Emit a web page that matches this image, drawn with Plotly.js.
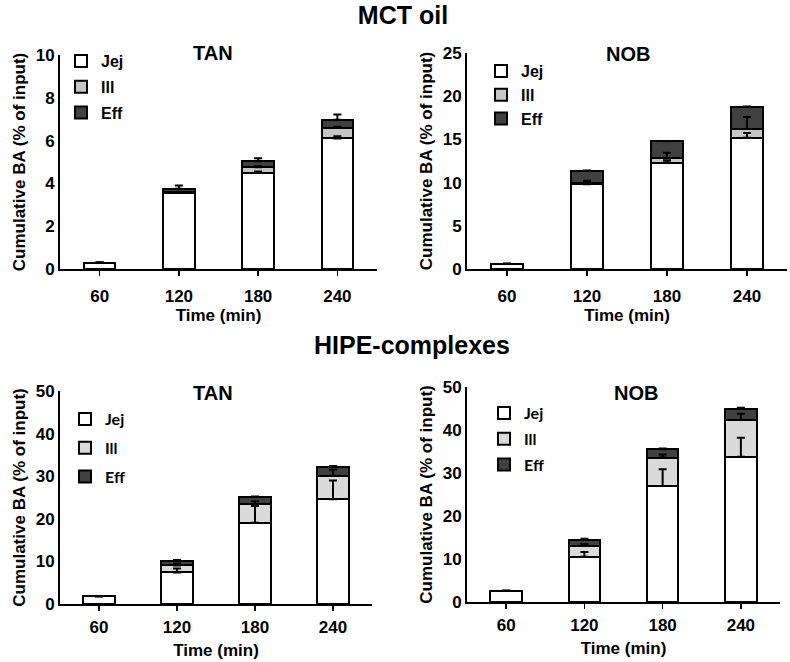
<!DOCTYPE html>
<html>
<head>
<meta charset="utf-8">
<script src="https://cdn.plot.ly/plotly-3.0.1.min.js"></script>
<style>html,body{margin:0;padding:0;background:#fff;}#chart{width:790px;height:662px;}</style>
</head>
<body>
<div id="chart"></div>
<script>
// ---------- data ----------
const times = ['60', '120', '180', '240'];
const seriesNames = ['Jej', 'Ill', 'Eff'];

// MCT oil – TAN
const mctTanJej = [0.3, 3.55, 4.5, 6.1];
const mctTanIll = [0, 0.03, 0.25, 0.5];
const mctTanEff = [0, 0.17, 0.29, 0.37];
const mctTanJejErr = [0, 0.03, 0.06, 0.1];
const mctTanIllErr = [0, 0.02, 0.05, 0.05];
const mctTanEffErr = [0, 0.15, 0.14, 0.25];

// MCT oil – NOB
const mctNobJej = [0.6, 9.8, 12.3, 15.2];
const mctNobIll = [0, 0.2, 0.5, 1.0];
const mctNobEff = [0, 1.4, 2.0, 2.6];
const mctNobJejErr = [0, 0.2, 0.25, 0.55];
const mctNobIllErr = [0, 0.2, 0.65, 1.4];
const mctNobEffErr = [0, 0, 0, 0];

// HIPE-complexes – TAN
const hipeTanJej = [1.8, 7.4, 19.1, 24.6];
const hipeTanIll = [0, 1.65, 4.3, 5.5];
const hipeTanEff = [0, 1.1, 1.7, 2.0];
const hipeTanJejErr = [0, 0.95, 3.9, 4.4];
const hipeTanIllErr = [0, 0.45, 0.7, 1.4];
const hipeTanEffErr = [0, 0.15, 0.15, 0.3];

// HIPE-complexes – NOB
const hipeNobJej = [2.6, 10.5, 27.0, 33.8];
const hipeNobIll = [0, 2.6, 6.6, 8.5];
const hipeNobEff = [0, 1.4, 1.9, 2.7];
const hipeNobJejErr = [0, 1.1, 3.9, 4.4];
const hipeNobIllErr = [0, 0.4, 0.7, 1.5];
const hipeNobEffErr = [0, 0.2, 0.2, 0.2];

// ---------- styling ----------
const W = 790, H = 662;
const px = v => v / W;
const py = v => 1 - v / H;
const ARIAL = 'Liberation Sans, Arial, sans-serif';
const CALIBRI = 'Lato, Liberation Sans, sans-serif';

const panels = [
  {xa: 'x', ya: 'y', leg: 'legend', vals: [mctTanJej, mctTanIll, mctTanEff], errs: [mctTanJejErr, mctTanIllErr, mctTanEffErr], ill: '#c6c6c6'},
  {xa: 'x2', ya: 'y2', leg: 'legend2', vals: [mctNobJej, mctNobIll, mctNobEff], errs: [mctNobJejErr, mctNobIllErr, mctNobEffErr], ill: '#c6c6c6'},
  {xa: 'x3', ya: 'y3', leg: 'legend3', vals: [hipeTanJej, hipeTanIll, hipeTanEff], errs: [hipeTanJejErr, hipeTanIllErr, hipeTanEffErr], ill: '#dadada'},
  {xa: 'x4', ya: 'y4', leg: 'legend4', vals: [hipeNobJej, hipeNobIll, hipeNobEff], errs: [hipeNobJejErr, hipeNobIllErr, hipeNobEffErr], ill: '#dadada'}
];

const traces = [];
const errTraces = [];
panels.forEach((p, pi) => {
  const fills = ['#ffffff', p.ill, '#404040'];
  const cum = [0, 0, 0, 0];
  seriesNames.forEach((name, si) => {
    traces.push({
      type: 'bar',
      name: name,
      x: times,
      y: p.vals[si],
      xaxis: p.xa,
      yaxis: p.ya,
      legend: p.leg,
      legendgroup: 'g' + pi + '_' + si,
      marker: {color: fills[si], line: {color: '#000', width: 2}},
      hoverinfo: 'x+y+name'
    });
    // error bars (plus only) drawn at the top of each stacked segment, above all bars
    const tops = p.vals[si].map((v, i) => (cum[i] += v));
    errTraces.push({
      type: 'scatter', mode: 'markers',
      x: times, y: tops.slice(),
      xaxis: p.xa, yaxis: p.ya,
      marker: {size: 1, opacity: 0},
      showlegend: false, hoverinfo: 'skip',
      error_y: {type: 'data', symmetric: false, array: p.errs[si], arrayminus: [0, 0, 0, 0],
                color: '#000', thickness: 2, width: 4}
    });
  });
});

const tickFont = {family: ARIAL, size: 17, color: '#000', weight: 'bold'};
const titleFont = {family: ARIAL, size: 17, color: '#000', weight: 'bold'};

function xAxis(dom, anchor, standoff, lblStand) {
  return {
    domain: dom, anchor: anchor, type: 'category', range: [-0.5, 3.5],
    showline: true, linecolor: '#000', linewidth: 2,
    ticks: 'outside', ticklen: 5, tickwidth: 1.5, tickcolor: '#000',
    tickfont: tickFont, ticklabelstandoff: lblStand, showgrid: false, zeroline: false,
    title: {text: 'Time (min)', font: titleFont, standoff: standoff}, automargin: false, fixedrange: true
  };
}
function yAxis(dom, anchor, range, dtick) {
  return {
    domain: dom, anchor: anchor, range: range, dtick: dtick,
    showline: true, linecolor: '#000', linewidth: 2, ticks: '',
    tickfont: tickFont, showgrid: false, zeroline: false,
    title: {text: 'Cumulative BA (% of input)', font: titleFont, standoff: 6}, automargin: false, fixedrange: true
  };
}
function legend(xPx, yPx, gap, family) {
  return {
    x: px(xPx), y: py(yPx), xanchor: 'left', yanchor: 'top',
    bgcolor: 'rgba(0,0,0,0)', borderwidth: 0, traceorder: 'grouped', tracegroupgap: gap,
    font: {family: family, size: 16, color: '#000', weight: 'bold'}
  };
}

const layout = {
  width: W, height: H,
  margin: {l: 0, r: 0, t: 0, b: 0},
  paper_bgcolor: '#fff', plot_bgcolor: 'rgba(0,0,0,0)',
  barmode: 'stack', bargap: 0.6,
  showlegend: true,
  title: {text: 'MCT oil', x: px(403), xanchor: 'center', y: py(15), yanchor: 'middle',
          font: {family: ARIAL, size: 25, color: '#000', weight: 'bold'}},
  xaxis: xAxis([px(60), px(377)], 'y', 4, 6),
  yaxis: yAxis([py(269), py(55)], 'x', [0, 10], 2),
  xaxis2: xAxis([px(467), px(787)], 'y2', 4, 6),
  yaxis2: yAxis([py(269), py(53)], 'x2', [0, 25], 5),
  xaxis3: xAxis([px(60), px(372)], 'y3', 8, 2),
  yaxis3: yAxis([py(604), py(391)], 'x3', [0, 50], 10),
  xaxis4: xAxis([px(467), px(780)], 'y4', 8, 2),
  yaxis4: yAxis([py(602), py(387)], 'x4', [0, 50], 10),
  legend: legend(61, 44, 2, ARIAL),
  legend2: legend(481, 54, 0, ARIAL),
  legend3: legend(65, 402, 5, CALIBRI),
  legend4: legend(484, 396, 2, CALIBRI),
  annotations: [
    {text: 'HIPE-complexes', xref: 'paper', yref: 'paper', x: px(412), y: py(345), xanchor: 'center', yanchor: 'middle', showarrow: false,
     font: {family: ARIAL, size: 25, color: '#000', weight: 'bold'}},
    {text: 'TAN', xref: 'paper', yref: 'paper', x: px(213), y: py(53), xanchor: 'center', yanchor: 'middle', showarrow: false,
     font: {family: ARIAL, size: 20, color: '#000', weight: 'bold'}},
    {text: 'NOB', xref: 'paper', yref: 'paper', x: px(628), y: py(54), xanchor: 'center', yanchor: 'middle', showarrow: false,
     font: {family: ARIAL, size: 20, color: '#000', weight: 'bold'}},
    {text: 'TAN', xref: 'paper', yref: 'paper', x: px(213), y: py(393), xanchor: 'center', yanchor: 'middle', showarrow: false,
     font: {family: ARIAL, size: 20, color: '#000', weight: 'bold'}},
    {text: 'NOB', xref: 'paper', yref: 'paper', x: px(636), y: py(393), xanchor: 'center', yanchor: 'middle', showarrow: false,
     font: {family: ARIAL, size: 20, color: '#000', weight: 'bold'}}
  ]
};

Plotly.newPlot('chart', traces.concat(errTraces), layout, {displayModeBar: false, staticPlot: true});
</script>
</body>
</html>
